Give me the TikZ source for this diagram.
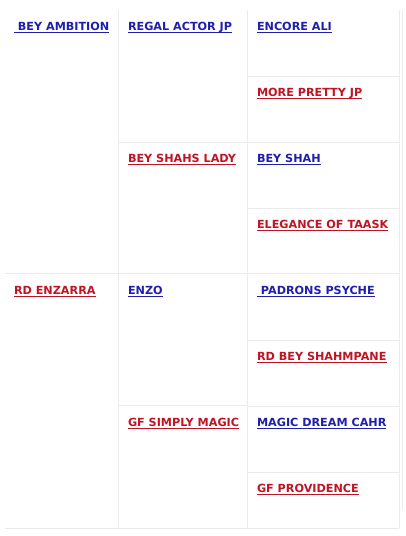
\documentclass[tikz,border=0pt]{standalone}
\usepackage{fontspec}
\setsansfont{DejaVu Sans}
\usetikzlibrary{positioning}
\definecolor{gridgray}{HTML}{EBEBEB}
\definecolor{sireblue}{HTML}{1F1FAE}
\definecolor{damred}{HTML}{C01424}
\newcommand{\hname}[1]{\setbox0\hbox{#1}\rlap{\rule[-2.4pt]{\wd0}{1.1pt}}\box0}

\begin{document}
\begin{tikzpicture}[x=1pt,y=-1pt,
    cell/.style={rectangle, inner sep=0pt, minimum width=#1},
    grid/.style={draw=gridgray, line width=1pt},
    horse/.style={anchor=base west, inner sep=0pt,
                  font=\sffamily\bfseries\fontsize{11.2}{14}\selectfont},
    sire/.style={horse, text=sireblue},
    dam/.style={horse, text=damred}]

    \useasboundingbox (0,0) rectangle (406,536);

    % generation 1
    \node[cell=113pt, minimum height=264pt] (s) at (61.5,142) {};
    \node[cell=113pt, minimum height=254pt] (d) at (61.5,401) {};

    % generation 2
    \node[cell=129pt, minimum height=132pt] (ss) at (182.5,76) {};
    \node[cell=129pt, minimum height=132pt] (sd) at (182.5,208) {};
    \node[cell=129pt, minimum height=132pt] (ds) at (182.5,340) {};
    \node[cell=129pt, minimum height=122pt] (dd) at (182.5,467) {};

    % generation 3
    \foreach \i/\y in {1/43,2/109,3/175,4/241,5/307,6/373,7/439}
        \node[cell=152pt, minimum height=66pt] (g\i) at (323,\y) {};
    \node[cell=152pt, minimum height=56pt] (g8) at (323,500) {};

    \coordinate (edgetop) at (402,10);
    \coordinate (edgebot) at (402,510);

    % names
    \node[sire] at ([shift={(9,20.5)}]s.north west) {\hname{\ BEY AMBITION}};
    \node[dam] at ([shift={(9,20.5)}]d.north west) {\hname{RD ENZARRA}};
    \node[sire] at ([shift={(10,20.5)}]ss.north west) {\hname{REGAL ACTOR JP}};
    \node[dam] at ([shift={(10,20.5)}]sd.north west) {\hname{BEY SHAHS LADY}};
    \node[sire] at ([shift={(10,20.5)}]ds.north west) {\hname{ENZO}};
    \node[dam] at ([shift={(10,20.5)}]dd.north west) {\hname{GF SIMPLY MAGIC}};
    \node[sire] at ([shift={(10,20.5)}]g1.north west) {\hname{ENCORE ALI}};
    \node[dam] at ([shift={(10,20.5)}]g2.north west) {\hname{MORE PRETTY JP}};
    \node[sire] at ([shift={(10,20.5)}]g3.north west) {\hname{BEY SHAH}};
    \node[dam] at ([shift={(10,20.5)}]g4.north west) {\hname{ELEGANCE OF TAASK}};
    \node[sire] at ([shift={(10,20.5)}]g5.north west) {\hname{\ PADRONS PSYCHE}};
    \node[dam] at ([shift={(10,20.5)}]g6.north west) {\hname{RD BEY SHAHMPANE}};
    \node[sire] at ([shift={(10,20.5)}]g7.north west) {\hname{MAGIC DREAM CAHR}};
    \node[dam] at ([shift={(10,20.5)}]g8.north west) {\hname{GF PROVIDENCE}};

    % table lines
    \draw[grid] (s.north east) -- (d.south east);
    \draw[grid] (ss.north east) -- (dd.south east);
    \draw[grid] (g1.north east) -- (g8.south east);
    \draw[grid] (edgetop) -- (edgebot);
    \draw[grid] (d.north west) -- (g5.north east);
    \draw[grid] (d.south west) -- (g8.south east);
    \draw[grid] (ss.south west) -- (ss.south east);
    \draw[grid] (dd.north west) -- (dd.north east);
    \foreach \i in {1,2,3,5,6,7}
        \draw[grid] (g\i.south west) -- (g\i.south east);

\end{tikzpicture}
\end{document}
